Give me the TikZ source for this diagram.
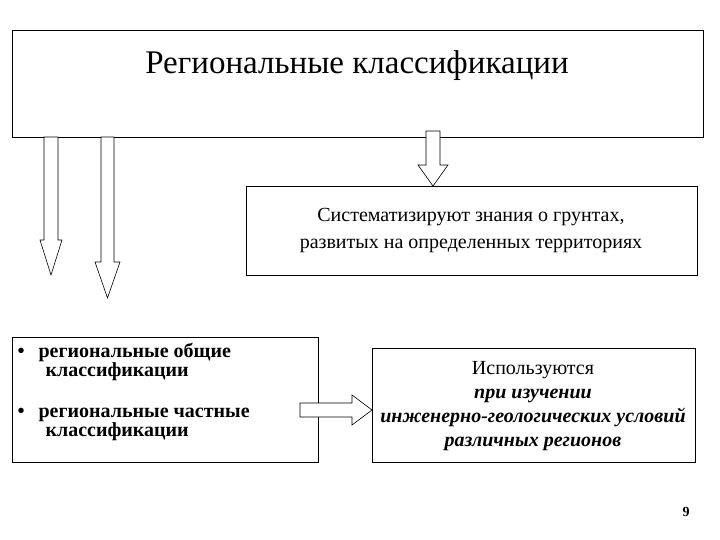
\documentclass[tikz,border=0pt]{standalone}
\usepackage{fontspec}
\setmainfont{Liberation Serif}
\begin{document}
\begin{tikzpicture}[x=1pt,y=-1pt,
 box/.style={draw,line width=0.6pt,inner sep=0pt},
 barrow/.style={draw,line width=0.6pt,fill=white}]
\useasboundingbox (0,0) rectangle (720,540);
\node[box,minimum width=691pt,minimum height=107pt,anchor=north west] (top) at (12,30) {};
\node (title) at (357,66) {\fontsize{33}{38}\selectfont Региональные классификации};
\node[box,minimum width=451pt,minimum height=89pt,anchor=north west] (sys) at (246,186) {};
\node[align=center,font=\fontsize{20}{27}\selectfont] at (471,231) {Систематизируют знания о грунтах,\\ развитых на определенных территориях};
\node[box,minimum width=306pt,minimum height=125pt,anchor=north west] (reg) at (12,337) {};
\node[anchor=north west,align=left,font=\fontsize{20}{19}\selectfont\bfseries] at (14,340) {%
\textbullet\hspace{14pt}региональные общие\\ \hspace{28pt}классификации\\[22pt]
\textbullet\hspace{14pt}региональные частные\\ \hspace{28pt}классификации};
\node[box,minimum width=323pt,minimum height=114pt,anchor=north west] (use) at (372,348) {};
\node[align=center,font=\fontsize{20}{24}\selectfont] at (533,406) {Используются\\ \textit{\bfseries при изучении}\\ \textit{\bfseries инженерно-геологических условий}\\ \textit{\bfseries различных регионов}};
\node[font=\fontsize{14}{16}\selectfont\bfseries] (pg) at (686,512) {9};
% block arrows
\draw[barrow] (44,137) -- (58,137) -- (58,240) -- (62,240) -- (51,275) -- (40,240) -- (44,240) -- cycle;
\draw[barrow] (101,137) -- (114,137) -- (114,262) -- (120,262) -- (107.5,298) -- (95,262) -- (101,262) -- cycle;
\draw[barrow] (426,131) -- (440,131) -- (440,165) -- (448,165) -- (433,186) -- (418,165) -- (426,165) -- cycle;
\draw[barrow] (300,403) -- (352,403) -- (352,395) -- (372,410) -- (352,425) -- (352,417) -- (300,417) -- cycle;
\end{tikzpicture}
\end{document}
